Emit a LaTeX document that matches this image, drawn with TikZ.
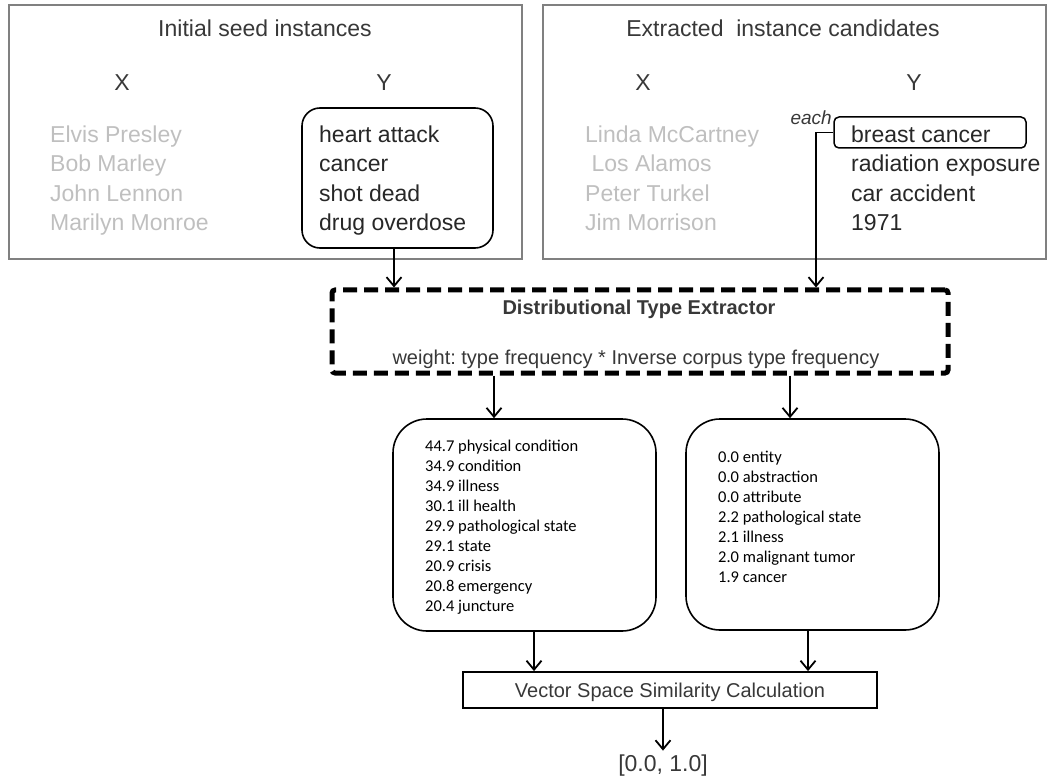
\documentclass[tikz,border=0pt]{standalone}
\usepackage{fontspec}
\setmainfont{Liberation Sans}
\newfontfamily\typefont{Carlito}
\usetikzlibrary{arrows.meta}
\definecolor{framegrey}{HTML}{808080}
\definecolor{namegrey}{HTML}{BFBFBF}
\definecolor{headgrey}{HTML}{383838}
\frenchspacing

\begin{document}
\begin{tikzpicture}[x=1pt,y=-1pt,
            panel/.style={draw=framegrey, line width=1.4pt, inner sep=0pt},
            head/.style={font=\fontsize{23}{28}\selectfont, text=headgrey, anchor=base, inner sep=0pt},
            xname/.style={font=\fontsize{23}{28}\selectfont, text=namegrey, anchor=base west, inner sep=0pt},
            yname/.style={font=\fontsize{23}{28}\selectfont, text=headgrey!70!black, anchor=base west, inner sep=0pt},
            roundbox/.style={draw, line width=1.6pt, rounded corners=#1, inner sep=0pt},
            typeline/.style={font=\typefont\fontsize{16.5}{20}\selectfont, anchor=base west, inner sep=0pt},
            arr/.style={-{Straight Barb[length=9pt,width=15pt]}, line width=1.8pt}
            ]
            \useasboundingbox (0,0) rectangle (1050,778);

            % seed and candidate panels
            \node[panel, minimum width=513pt, minimum height=254pt] (seed) at (265.5,132) {};
            \node[panel, minimum width=503pt, minimum height=254pt] (cand) at (794.5,132) {};
            \node[head] (seedtitle) at (265,36.5) {Initial seed instances};
            \node[head] (candtitle) at (783,36.5) {Extracted\ \ instance candidates};
            \node[head] (seedx) at (122,90.5) {X};
            \node[head] (seedy) at (384,90.5) {Y};
            \node[head] (candx) at (643,90.5) {X};
            \node[head] (candy) at (914,90.5) {Y};

            \node[roundbox=18pt, minimum width=191pt, minimum height=140pt] (ybox) at (397.5,178) {};
            \node[roundbox=5pt, line width=1.5pt, minimum width=192pt, minimum height=31pt] (bcbox) at (930,132.5) {};

            \foreach \t [count=\i] in {Elvis Presley, Bob Marley, John Lennon, Marilyn Monroe}
                \node[xname] (sx\i) at (50,113.4+29.3*\i) {\t};
            \foreach \t [count=\i] in {heart attack, cancer, shot dead, drug overdose}
                \node[yname] (sy\i) at (319,113.4+29.3*\i) {\t};
            \foreach \t [count=\i] in {Linda McCartney, \ Los Alamos, Peter Turkel, Jim Morrison}
                \node[xname] (cx\i) at (585,113.4+29.3*\i) {\t};
            \foreach \t [count=\i] in {breast cancer, radiation exposure, car accident, 1971}
                \node[yname] (cy\i) at (851,113.4+29.3*\i) {\t};
            \node[font=\itshape\fontsize{19}{22}\selectfont, text=headgrey, anchor=base east, inner sep=0pt] (each) at (832,125) {each};

            % type extractor
            \node[draw, line width=5pt, dash pattern=on 14pt off 7pt, rounded corners=3pt,
                  minimum width=616pt, minimum height=83pt, inner sep=0pt] (dte) at (640,331.5) {};
            \node[font=\bfseries\fontsize{20}{24}\selectfont, text=headgrey, anchor=base, inner sep=0pt] (dtetitle) at (639,314.3) {Distributional Type Extractor};
            \node[font=\fontsize{20}{24}\selectfont, text=headgrey, anchor=base, inner sep=0pt] (weight) at (636,364) {weight: type frequency * Inverse corpus type frequency};

            % type vectors
            \node[roundbox=34pt, minimum width=263pt, minimum height=212pt] (ltypes) at (524.5,525) {};
            \node[roundbox=34pt, minimum width=253pt, minimum height=211pt] (rtypes) at (812.5,524.5) {};
            \foreach \t [count=\i] in {44.7 physical condition, 34.9 condition, 34.9 illness, 30.1 ill health,
                    29.9 pathological state, 29.1 state, 20.9 crisis, 20.8 emergency, 20.4 juncture}
                \node[typeline] (lt\i) at (425,431.7+20*\i) {\t};
            \foreach \t [count=\i] in {0.0 entity, 0.0 abstraction, 0.0 attribute, 2.2 pathological state,
                    2.1 illness, 2.0 malignant tumor, 1.9 cancer}
                \node[typeline] (rt\i) at (718,442+20*\i) {\t};

            \node[draw, line width=1.8pt, minimum width=414pt, minimum height=36pt, text depth=0pt,
                  font=\fontsize{20}{24}\selectfont, text=headgrey] (vsc) at (670,690) {Vector Space Similarity Calculation};
            \node[head] (score) at (663,771.5) {[0.0, 1.0]};

            \coordinate (bend) at (816,132.5);
            \draw[arr] ([xshift=-3.5pt]ybox.south) -- ([xshift=-3.5pt]ybox.south |- dte.north);
            \draw[arr] (bcbox.west) -- (bend) -- (bend |- dte.north);
            \draw[arr] ([xshift=-30.5pt]ltypes.north |- dte.south) -- ([xshift=-30.5pt]ltypes.north);
            \draw[arr] ([xshift=-22.5pt]rtypes.north |- dte.south) -- ([xshift=-22.5pt]rtypes.north);
            \draw[arr] ([xshift=9.5pt]ltypes.south) -- ([xshift=9.5pt]ltypes.south |- vsc.north);
            \draw[arr] ([xshift=-4.5pt]rtypes.south) -- ([xshift=-4.5pt]rtypes.south |- vsc.north);
            \draw[arr, shorten >=4pt] ([xshift=-7pt]vsc.south) -- ([xshift=-7pt]vsc.south |- score.north);

            \end{tikzpicture}
\end{document}
